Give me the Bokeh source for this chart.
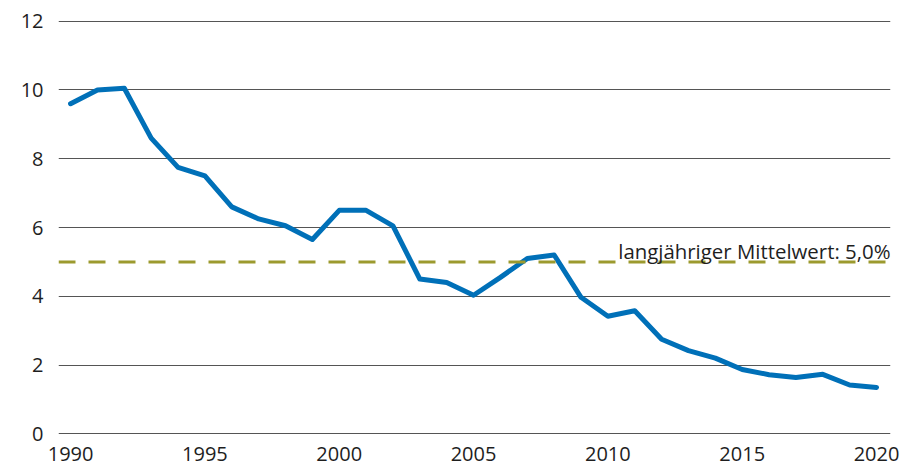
from bokeh.plotting import figure
from bokeh.models import Range1d, FixedTicker, Span, Label
from bokeh.embed import file_html
from bokeh.resources import INLINE

years = list(range(1990, 2021))
values = [9.6, 10.0, 10.05, 8.6, 7.75, 7.5, 6.6, 6.25, 6.05, 5.65,
          6.5, 6.5, 6.05, 4.5, 4.4, 4.03, 4.55, 5.1, 5.2, 3.97,
          3.42, 3.58, 2.75, 2.42, 2.2, 1.87, 1.72, 1.64, 1.73, 1.42, 1.35]
mean_value = 5.0
mean_label = "langjähriger Mittelwert: 5,0%"
x_ticks = [1990, 1995, 2000, 2005, 2010, 2015, 2020]
y_ticks = [0, 2, 4, 6, 8, 10, 12]

FONT = "Open Sans"
TXT = "#1e1e1e"

p = figure(width=913, height=474, output_backend="svg", toolbar_location=None,
           x_range=Range1d(1989.55, 2020.52), y_range=Range1d(-0.02, 12.05),
           min_border_left=58, min_border_right=23, min_border_top=19,
           min_border_bottom=40)
p.outline_line_color = None
p.background_fill_color = "white"
p.border_fill_color = "white"

p.line(years, values, line_color="#0070b8", line_width=5, line_join="round", line_cap="round")

p.add_layout(Span(location=mean_value, dimension="width", line_color="#9c9a2e",
                  line_width=3, line_dash="17 13"))
p.add_layout(Label(x=2020.52, y=mean_value, text=mean_label, text_align="right",
                   text_baseline="alphabetic", y_offset=11, text_font=FONT,
                   text_font_size="20.4px", text_color=TXT))

p.xgrid.grid_line_color = None
p.ygrid.grid_line_color = "#555555"
p.ygrid.grid_line_width = 1
p.ygrid.ticker = FixedTicker(ticks=y_ticks)

p.xaxis.ticker = FixedTicker(ticks=x_ticks)
p.yaxis.ticker = FixedTicker(ticks=y_ticks)
for ax in (p.xaxis, p.yaxis):
    ax.axis_line_color = None
    ax.major_tick_line_color = None
    ax.minor_tick_line_color = None
    ax.major_tick_out = 0
    ax.major_tick_in = 0
    ax.major_label_text_font = FONT
    ax.major_label_text_font_size = "20px"
    ax.major_label_text_color = TXT
p.yaxis.major_label_standoff = 15
p.xaxis.major_label_standoff = 12

open("out.html", "w").write(file_html(p, INLINE))
